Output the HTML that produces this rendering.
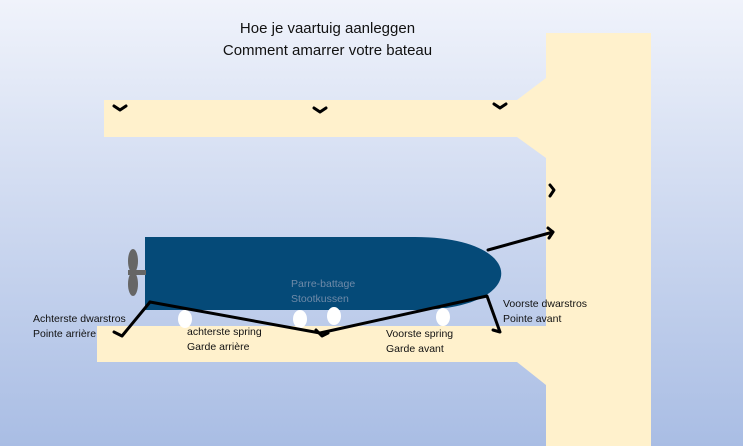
<!DOCTYPE html><html><head><style>
body{margin:0;width:743px;height:446px;overflow:hidden;background:linear-gradient(#f0f3fb,#a9bde4);font-family:"Liberation Sans",sans-serif;position:relative}
.t{position:absolute;font-size:10.5px;color:#111;line-height:15px}
</style></head><body>
<svg width="743" height="446" style="position:absolute;left:0;top:0">
<polygon fill="#fff1cc" points="546,33 651,33 651,446 546,446 546,385 517,362 97,362 97,326 546,326 546,158 517,137 104,137 104,100 517,100 546,78"/>
<path fill="#054a78" d="M145,237 H415 C530,237 530,310 415,310 H145 Z"/>
<rect x="128" y="270" width="18" height="5" fill="#666"/>
<ellipse cx="133" cy="261" rx="5" ry="12" fill="#666"/>
<ellipse cx="133" cy="284" rx="5" ry="12" fill="#666"/>
<g fill="#fff"><ellipse cx="185" cy="319" rx="7" ry="9"/><ellipse cx="300" cy="319" rx="7" ry="9"/><ellipse cx="334" cy="316" rx="7" ry="9"/><ellipse cx="443" cy="317" rx="7" ry="9"/></g>
<g stroke="#000" stroke-width="3" fill="none" stroke-linecap="round" stroke-linejoin="round">
<path d="M150,302 L122,336 L114,332"/>
<path d="M150,302 L320,333 L487,296 L500,332 L493,330"/>
<path d="M316,330 L322,336 L328,333"/>
<path d="M488,250 L553,232"/>
<path d="M548,228 L553,232 L549,238"/>
<path d="M114,106 L120,110 L126,106"/><path d="M314,108 L320,112 L326,108"/><path d="M494,104 L500,108 L506,104"/>
<path d="M550,185 L554,190 L550,196"/>
</g></svg>
<div style="position:absolute;left:0;width:743px;top:18px;text-align:center;font-size:15px;line-height:22px;color:#111"><span style="position:relative;left:-44px;display:inline-block">Hoe je vaartuig aanleggen<br>Comment amarrer votre bateau</span></div>
<div class="t" style="left:33px;top:312px">Achterste dwarstros<br>Pointe arrière</div>
<div class="t" style="left:187px;top:325px">achterste spring<br>Garde arrière</div>
<div class="t" style="left:291px;top:277px;color:#6f8aa8">Parre-battage<br>Stootkussen</div>
<div class="t" style="left:386px;top:327px">Voorste spring<br>Garde avant</div>
<div class="t" style="left:503px;top:297px">Voorste dwarstros<br>Pointe avant</div>
</body></html>
